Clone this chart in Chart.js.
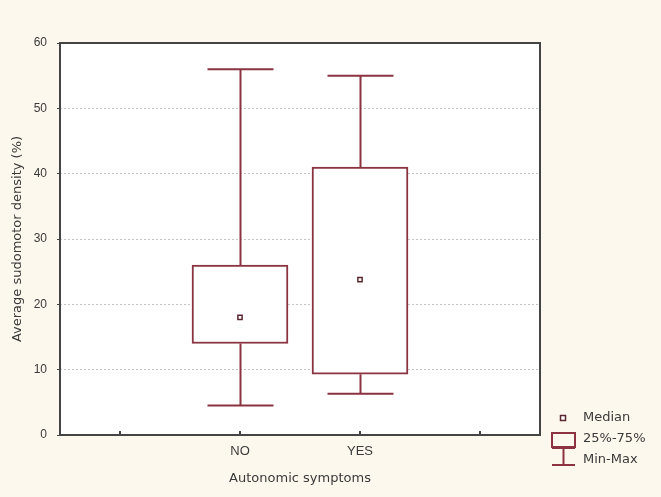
<!DOCTYPE html>
<html>
<head>
<meta charset="utf-8">
<script src="https://cdn.jsdelivr.net/npm/chart.js@4/dist/chart.umd.min.js"></script>
<style>
html,body{margin:0;padding:0;background:#fdf8ee;}
#wrap{width:661px;height:497px;}
</style>
</head>
<body>
<div id="wrap"><canvas id="c" width="661" height="497"></canvas></div>
<script>
const categories = ['NO', 'YES'];
const minValues = [4.5, 6.3];
const q1Values = [14, 9.3];
const medianValues = [18, 23.8];
const q3Values = [26, 41];
const maxValues = [56, 55];
const yTicks = [0, 10, 20, 30, 40, 50, 60];

const RED = '#8b3340';
const DARK = '#444444';
const TXT = '#3a3a3a';
const TITLE_FONT = '"DejaVu Sans", Verdana, sans-serif';
const TICK_FONT = '"Liberation Sans", Arial, sans-serif';

const labels = ['', ...categories, ''];
const boxData = [null, ...categories.map((c, i) => [q1Values[i], q3Values[i]]), null];
const medData = [null, ...medianValues, null];

const framePlugin = {
  id: 'frame',
  beforeDraw(chart) {
    const {ctx, chartArea: a} = chart;
    ctx.save();
    ctx.fillStyle = '#fdf8ee';
    ctx.fillRect(0, 0, chart.width, chart.height);
    ctx.fillStyle = '#ffffff';
    ctx.fillRect(a.left, a.top, a.right - a.left, a.bottom - a.top);
    ctx.restore();
  },
  beforeDatasetsDraw(chart) {
    const {ctx} = chart;
    const xs = chart.scales.x, ys = chart.scales.y;
    ctx.save();
    ctx.strokeStyle = RED;
    ctx.lineWidth = 2;
    categories.forEach((c, i) => {
      const x = Math.round(xs.getPixelForValue(i + 1)) + 0.5;
      const half = 33;
      const yMin = ys.getPixelForValue(minValues[i]);
      const yQ1 = ys.getPixelForValue(q1Values[i]);
      const yQ3 = ys.getPixelForValue(q3Values[i]);
      const yMax = ys.getPixelForValue(maxValues[i]);
      ctx.beginPath();
      ctx.moveTo(x, yMin); ctx.lineTo(x, yQ1);
      ctx.moveTo(x, yQ3); ctx.lineTo(x, yMax);
      ctx.moveTo(x - half, yMin); ctx.lineTo(x + half, yMin);
      ctx.moveTo(x - half, yMax); ctx.lineTo(x + half, yMax);
      ctx.stroke();
    });
    ctx.restore();
  },
  afterDraw(chart) {
    const {ctx, chartArea: a} = chart;
    const xs = chart.scales.x;
    ctx.save();
    ctx.strokeStyle = DARK;
    ctx.lineWidth = 2;
    ctx.strokeRect(a.left, a.top, a.right - a.left, a.bottom - a.top);
    for (let i = 0; i < labels.length; i++) {
      const x = Math.round(xs.getPixelForValue(i));
      ctx.beginPath();
      ctx.moveTo(x, a.bottom);
      ctx.lineTo(x, a.bottom - 4);
      ctx.stroke();
    }
    // legend
    const lx = 563;
    ctx.strokeStyle = '#5c2630';
    ctx.lineWidth = 1.5;
    ctx.fillStyle = '#ffffff';
    ctx.fillRect(lx - 2.5, 415.5, 5, 5);
    ctx.strokeRect(lx - 2.5, 415.5, 5, 5);
    ctx.strokeStyle = RED;
    ctx.lineWidth = 2;
    ctx.strokeRect(552, 433, 23, 14);
    ctx.beginPath();
    ctx.moveTo(552, 448); ctx.lineTo(575, 448);
    ctx.moveTo(563.5, 448); ctx.lineTo(563.5, 465);
    ctx.moveTo(552, 465); ctx.lineTo(575, 465);
    ctx.stroke();
    ctx.fillStyle = TXT;
    ctx.font = '13px ' + TITLE_FONT;
    ctx.textBaseline = 'middle';
    ctx.textAlign = 'left';
    ctx.fillText('Median', 583, 418);
    ctx.fillText('25%-75%', 583, 439);
    ctx.fillText('Min-Max', 583, 460);
    ctx.restore();
  }
};

new Chart(document.getElementById('c'), {
  type: 'bar',
  data: {
    labels: labels,
    datasets: [
      {
        type: 'bar',
        label: '25%-75%',
        data: boxData,
        backgroundColor: '#ffffff',
        borderColor: RED,
        borderWidth: 2,
        borderSkipped: false,
        barThickness: 96,
        order: 2
      },
      {
        type: 'line',
        label: 'Median',
        data: medData,
        showLine: false,
        pointStyle: 'rect',
        pointRadius: 3,
        pointBackgroundColor: '#ffffff',
        pointBorderColor: '#5c2630',
        pointBorderWidth: 1.5,
        order: 1
      }
    ]
  },
  options: {
    responsive: false,
    animation: false,
    layout: {padding: {left: 0, top: 43, right: 121, bottom: 0}},
    plugins: {legend: {display: false}, tooltip: {enabled: false}},
    scales: {
      x: {
        offset: true,
        grid: {display: false, offset: false},
        border: {display: false},
        ticks: {
          color: TXT,
          font: {family: TICK_FONT, size: 13},
          padding: 1
        },
        title: {
          display: true,
          text: 'Autonomic symptoms',
          color: TXT,
          font: {family: TITLE_FONT, size: 13},
          padding: {top: 4, bottom: 11}
        },
        afterFit(s) { s.height = 62; }
      },
      y: {
        min: 0,
        max: 60,
        afterBuildTicks(s) { s.ticks = yTicks.map(v => ({value: v})); },
        grid: {
          color: c => (c.tick && (c.tick.value === 0 || c.tick.value === 60)) ? 'rgba(0,0,0,0)' : '#c4c4c4',
          lineWidth: 1,
          tickColor: DARK,
          tickLength: 3,
          tickBorderDash: []
        },
        border: {display: false, dash: [2, 2]},
        ticks: {
          color: TXT,
          font: {family: TICK_FONT, size: 12},
          padding: 10
        },
        title: {
          display: true,
          text: 'Average sudomotor density (%)',
          color: TXT,
          font: {family: TITLE_FONT, size: 13},
          padding: {top: 10, bottom: 0}
        },
        afterFit(s) { s.width = 60; }
      }
    }
  },
  plugins: [framePlugin]
});
</script>
</body>
</html>
